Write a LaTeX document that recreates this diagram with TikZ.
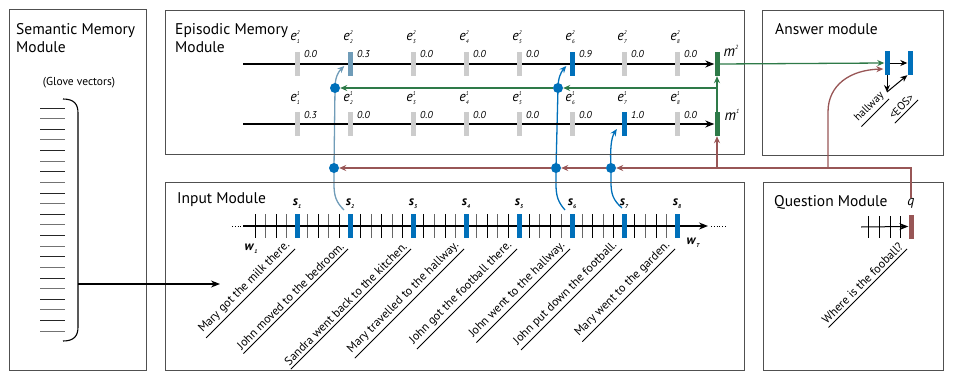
\documentclass[tikz,border=0pt]{standalone}
\usepackage{fontspec}
\setmainfont{PT Sans}
\usetikzlibrary{arrows.meta,backgrounds}
\definecolor{qbrown}{RGB}{152,86,86}
\definecolor{mgreen}{RGB}{46,122,72}
\definecolor{sblue}{RGB}{0,112,186}
\definecolor{lblue}{RGB}{112,156,184}
\definecolor{ebar}{RGB}{204,204,204}
\definecolor{boxgray}{RGB}{80,80,80}
\newcommand\escr[3]{\textit{#1}\rlap{\raisebox{0.95ex}{\fontsize{5.5}{5.5}\selectfont\itshape #2}}\raisebox{-0.45ex}{\fontsize{5.5}{5.5}\selectfont\itshape #3}}
\newcommand\sscr[2]{\textit{\textbf{#1}}\raisebox{-0.45ex}{\fontsize{5.5}{5.5}\selectfont\itshape\bfseries #2}}
\newcommand\msup[2]{\textit{#1}\raisebox{0.95ex}{\fontsize{6}{6}\selectfont\itshape #2}}
\begin{document}
\begin{tikzpicture}[x=1pt,y=-1pt,
  module/.style={draw=boxgray,line width=1pt},
  title/.style={anchor=west,align=left,inner sep=0pt,font=\fontsize{15.5}{18}\selectfont},
  bar/.style={inner sep=0pt,minimum width=5pt,minimum height=24pt},
  ebarst/.style={bar,fill=ebar},
  vallab/.style={anchor=west,inner sep=0pt,font=\fontsize{10}{10}\selectfont\itshape},
  elab/.style={inner sep=0pt,font=\fontsize{14}{14}\selectfont},
  slab/.style={inner sep=0pt,font=\fontsize{13}{13}\selectfont},
  sent/.style={rotate=45,anchor=south east,inner xsep=1pt,inner ysep=3pt,font=\fontsize{12}{12}\selectfont},
  uline/.style={line width=0.8pt},
  dot/.style={circle,fill=sblue,inner sep=0pt,minimum size=10pt},
  tip/.style={-{Stealth[length=9pt,width=7pt]}},
  ctip/.style={-{Stealth[length=7pt,width=6pt]}},
  rowline/.style={line width=1.3pt,tip},
  tick/.style={line width=0.8pt},
  qbl/.style={draw=qbrown,line width=1.3pt,ctip},
  mgl/.style={draw=mgreen,line width=1.3pt,ctip},
  sbl/.style={draw=sblue,line width=1.3pt,ctip},
  lbl/.style={draw=lblue,line width=1.3pt,ctip},
]
\useasboundingbox (0,0) rectangle (953,380);
% ---------- module boxes
\draw[module] (9,9) rectangle (146,370);
\draw[module] (165,10) rectangle (744,154);
\draw[module] (762,10) rectangle (943,155);
\draw[module] (165,182) rectangle (744,370);
\draw[module] (763,182) rectangle (943,370);
\node[title] (tsem) at (16,38) {Semantic Memory\\Module};
\node[title] (tepi) at (175,38) {Episodic Memory\\Module};
\node[title] (tans) at (775,29) {Answer module};
\node[title] (tinp) at (177,200) {Input Module};
\node[title] (tque) at (774,202) {Question Module};
% ---------- semantic memory
\node[inner sep=0pt,font=\fontsize{11.5}{12}\selectfont] (glove) at (79,83) {(Glove vectors)};
\foreach \k in {0,...,21}{
  \pgfmathsetmacro\yy{108+10.62*\k}
  \ifodd\k \draw[tick,black!55] (40,\yy) -- (65,\yy); \else \draw[tick,black!85] (40,\yy) -- (65,\yy); \fi
}
\draw[line width=1.1pt] (63,99) .. controls (74,99) and (78,104) .. (78,113) -- (78,327) .. controls (78,336) and (74,341) .. (63,341);
\coordinate (brk) at (78,284);
\coordinate (inarr) at (220,284);
\draw[line width=1.1pt,tip] (brk) -- (inarr);
% ---------- episodic memory
\node[bar,fill=mgreen] (m2) at (717,64) {};
\node[bar,fill=mgreen] (m1) at (717,124) {};
\node[inner sep=0pt,font=\fontsize{15}{15}\selectfont] (m2l) at (731,51) {\msup{m}{2}};
\node[inner sep=0pt,font=\fontsize{15}{15}\selectfont] (m1l) at (732,115) {\msup{m}{1}};
\coordinate (r2s) at (243,64);
\coordinate (r1s) at (243,124);
\draw[rowline] (r2s) -- (m2.west);
\draw[rowline] (r1s) -- (m1.west);
\foreach \x/\a/\b [count=\i] in {297/0.0/0.3, 350/0.3/0.0, 413/0.0/0.0, 466/0.0/0.0, 519/0.0/0.0, 572/0.9/0.0, 624/0.0/1.0, 677/0.0/0.0}{
  \node[ebarst] (eb2\i) at (\x,64) {};
  \node[ebarst] (eb1\i) at (\x,124) {};
  \node[elab] (el2\i) at (\x-2,37) {\escr{e}{2}{\i}};
  \node[elab] (el1\i) at (\x-2,98) {\escr{e}{1}{\i}};
  \node[vallab] (v2\i) at (\x+7,54) {\a};
  \node[vallab] (v1\i) at (\x+7,115) {\b};
}
\node[bar,fill=lblue] (e22) at (350,64) {};
\node[bar,fill=sblue] (e26) at (572,64) {};
\node[bar,fill=sblue] (e17) at (624,124) {};
% ---------- input module
\coordinate (il0) at (232,226);
\coordinate (il1) at (243,226);
\coordinate (il2) at (708,226);
\coordinate (il3) at (711,226);
\coordinate (il4) at (726,226);
\draw[line width=0.8pt,dotted] (il0) -- (il1);
\draw[line width=0.8pt,dotted] (il3) -- (il4);
\foreach \k in {0,...,40}{
  \pgfmathsetmacro\xx{255+10.55*\k}
  \ifodd\k \draw[tick,black!60] (\xx,214) -- (\xx,238); \else \draw[tick,black] (\xx,214) -- (\xx,238); \fi
}
\draw[rowline] (il1) -- (il2);
\foreach \x [count=\i] in {297,350,413,466,519,572,624,677}{
  \node[bar,fill=sblue] (s\i) at (\x,226) {};
  \node[slab] (sl\i) at (\x,204) {\sscr{s}{\i}};
}
\node[slab] (w1) at (251,249) {\sscr{w}{1}};
\node[slab] (wT) at (693,243) {\sscr{w}{T}};
\foreach \x/\t [count=\i] in {297/{Mary got the milk there.}, 350/{John moved to the bedroom.}, 413/{Sandra went back to the kitchen.}, 466/{Mary travelled to the hallway.}, 519/{John got the football there.}, 572/{John went to the hallway.}, 624/{John put down the football.}, 677/{Mary went to the garden.}}{
  \node[sent] (sent\i) at (\x-2,249) {\t};
  \draw[uline] (sent\i.south east) -- (sent\i.south west);
}
% ---------- question module
\foreach \x [count=\i] in {868,879,890,900}{
  \draw[tick] (\x,216) coordinate (qt\i) -- (\x,238);
}
\node[bar,fill=qbrown] (qb) at (911,226.5) {};
\coordinate (qls) at (861,227);
\draw[line width=1pt,tip] (qls) -- (qb.west);
\node[inner sep=0pt,font=\fontsize{14}{14}\selectfont] (ql) at (911,203) {\textit{q}};
\node[sent] (qsent) at (907,249) {Where is the fooball?};
\draw[uline] (qsent.south east) -- (qsent.south west);
% ---------- answer module
\node[bar,fill=sblue] (a1) at (887,63) {};
\node[bar,fill=sblue] (a2) at (910,63) {};
\coordinate (acorner) at (887,92);
\draw[line width=1pt,ctip] (a1.east) -- (a2.west);
\draw[line width=1pt,ctip] (a1.south) -- (acorner);
\draw[line width=1pt,ctip] (acorner) -- (a2.south west);
\node[sent,font=\fontsize{11}{11}\selectfont] (hall) at (889,99) {hallway};
\draw[uline] (hall.south east) -- (hall.south west);
\node[sent,font=\fontsize{11}{11}\selectfont] (eos) at (918,100) {<EOS>};
\draw[uline] (eos.south east) -- (eos.south west);
% ---------- dots
\node[dot] (dA) at (334,168) {};
\node[dot] (dB) at (335,88) {};
\node[dot] (d6a) at (556,168) {};
\node[dot] (d6b) at (558,88) {};
\node[dot] (d7) at (611,168) {};
\coordinate (c2s) at (344,210);
\coordinate (c6s) at (565,210);
\coordinate (c7s) at (622,208);
\coordinate (gsplit) at (717,88);
\coordinate (qbr) at (828,168);
\coordinate (qbm) at (717,168);
\begin{scope}[on background layer]
\draw[lbl] (c2s) .. controls (336,202) and (334,196) .. (334,184) -- (dA.center) -- (dB.center) .. controls (335,78) and (338,72) .. ([shift={(-3,2)}]e22.west);
\draw[sbl] (c6s) .. controls (558,202) and (556,196) .. (556,184) -- (d6a.center) -- (d6b.center) .. controls (558,78) and (561,72) .. ([shift={(-3,2)}]e26.west);
\draw[sbl] (c7s) .. controls (613,200) and (611,194) .. (611,182) -- (d7.center) .. controls (610,150) and (611,138) .. ([shift={(-4.5,5)}]e17.west);
\end{scope}
% ---------- question (brown) connectors
\draw[qbl] (ql.north) |- (d7.east);
\draw[qbl] (d7.west) -- (d6a.east);
\draw[qbl] (d6a.west) -- (dA.east);
\draw[qbl] (qbm) -- (m1.south);
\draw[qbl] (qbr) -- (828,112) .. controls (828,85) and (850,70) .. ([shift={(-1,6)}]a1.west);
% ---------- memory (green) connectors
\draw[mgl] (m1.north) -- (m2.south);
\draw[mgl] (gsplit) -- (d6b.east);
\draw[mgl] (d6b.west) -- (dB.east);
\draw[mgl] (m2.east) -- (a1.west);
\end{tikzpicture}
\end{document}
